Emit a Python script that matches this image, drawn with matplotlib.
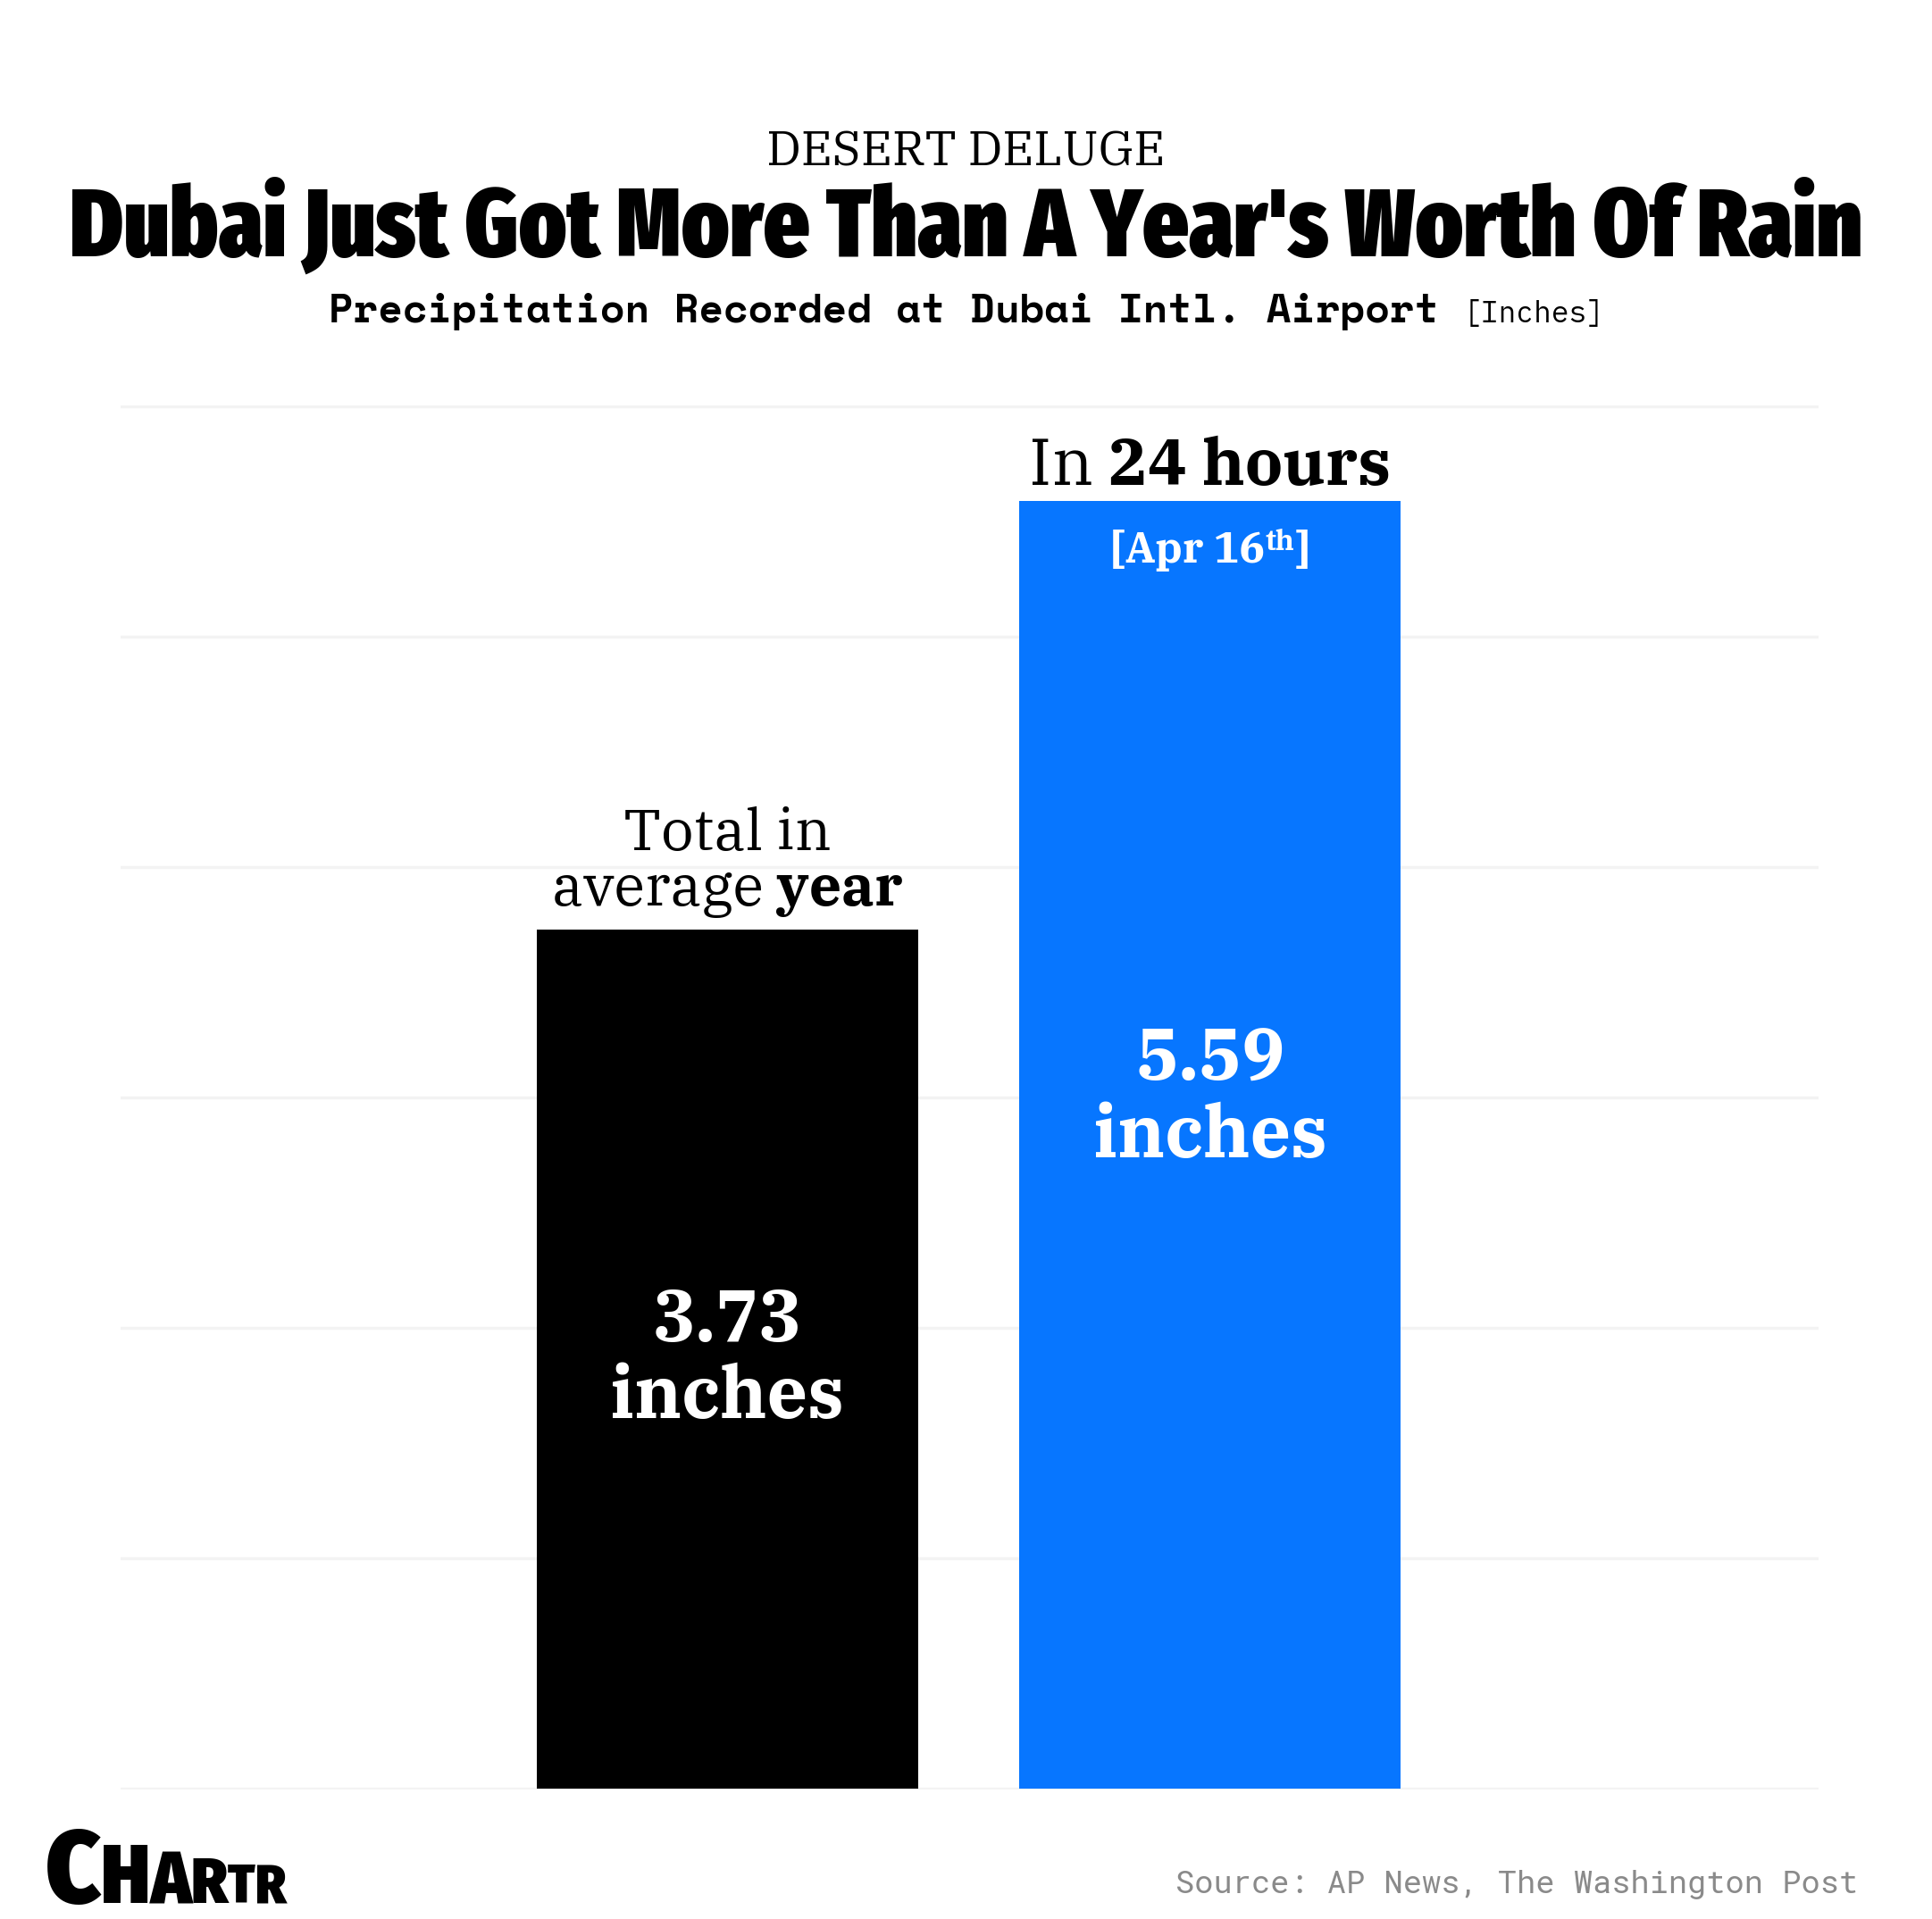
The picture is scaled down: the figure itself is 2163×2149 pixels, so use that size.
import matplotlib
matplotlib.use('Agg')
import matplotlib.pyplot as plt
from matplotlib import font_manager as fm
from matplotlib.transforms import IdentityTransform

names = {f.name for f in fm.fontManager.ttflist}


def pick(*cands):
    for c in cands:
        if c in names:
            return c
    return 'DejaVu Sans'


HEAVY = pick('Fira Sans Extra Condensed', 'Barlow Condensed', 'Anton', 'DejaVu Sans')
LOGO = pick('Fira Sans Condensed', 'Fira Sans Extra Condensed', 'DejaVu Sans')
SERIF = pick('IBM Plex Serif', 'PT Serif', 'DejaVu Serif')
MONO_B = pick('Space Mono', 'DejaVu Sans Mono')
MONO_L = pick('IBM Plex Mono', 'DejaVu Sans Mono')
MONO_S = pick('Roboto Mono', 'IBM Plex Mono', 'DejaVu Sans Mono')

# data
categories = ['Total in average year', 'In 24 hours']
values = [3.73, 5.59]
colors = ['#000000', '#0776FF']
unit = 'inches'

W, H = 2163, 2149
fig = plt.figure(figsize=(W / 100, H / 100), dpi=100)
fig.patch.set_facecolor('white')
ax = fig.add_axes([135 / W, 1 - 2004 / H, (2036 - 135) / W, (2004 - 454) / H])

x = range(len(values))
ax.bar(x, values, width=0.79, color=colors, zorder=2)
ax.set_xlim(-1.257, 2.26)
ax.set_ylim(-0.005, 6.005)
ax.set_yticks(range(7))
ax.grid(axis='y', color='#f3f3f3', lw=2.5, zorder=0)
ax.set_axisbelow(True)
ax.tick_params(left=False, bottom=False, labelleft=False, labelbottom=False)
for s in ax.spines.values():
    s.set_visible(False)

renderer = fig.canvas.get_renderer()
ident = IdentityTransform()


def rich(x0, y0, parts, ha='center', width=None, gap=0):
    # parts: (text, kwargs, dy) on one baseline, display px; width = target total width
    arts = []
    for s, kw, dy in parts:
        t = fig.text(0, 0, s, transform=ident, ha='left', va='baseline', **kw)
        arts.append([t, dy])

    def measure():
        return [a[0].get_window_extent(renderer).width for a in arts]

    ws = measure()
    if width:
        k = width / (sum(ws) + gap * (len(arts) - 1))
        for a in arts:
            a[0].set_fontsize(a[0].get_fontsize() * k)
            a[1] *= k
        gap *= k
        ws = measure()
    total = sum(ws) + gap * (len(arts) - 1)
    cur = x0 - total / 2 if ha == 'center' else (x0 - total if ha == 'right' else x0)
    for (t, dy), w in zip(arts, ws):
        t.set_position((cur, y0 + dy))
        cur += w + gap
    return arts


# header
rich(1081, H - 185, [('DESERT DELUGE', dict(family=SERIF, fontsize=40), 0)], width=446)
rich(1082, H - 287, [("Dubai Just Got More Than A Year's Worth Of Rain",
                      dict(family=HEAVY, weight=900, fontsize=72), 0)], width=2007)
rich(1082, H - 361, [
    ('Precipitation Recorded at Dubai Intl. Airport ', dict(family=MONO_B, weight='bold', fontsize=33), 0),
    ('[Inches]', dict(family=MONO_L, fontsize=24), 0),
], width=1432)

# labels on top of the bars
tops = [ax.transData.transform((i, v)) for i, v in zip(x, values)]
sfont = dict(family=SERIF, fontsize=49)
bfont = dict(family=SERIF, fontsize=49, weight='bold')
rich(tops[0][0], tops[0][1] + 89, [('Total in', sfont, 0)], width=233)
rich(tops[0][0], tops[0][1] + 27, [('average ', sfont, 0), ('year', bfont, 0)], width=393)

hfont = dict(family=SERIF, fontsize=55)
rich(tops[1][0], tops[1][1] + 18, [('In ', hfont, 0), ('24 hours', dict(hfont, weight='bold'), 0)],
     width=406)
wfont = dict(family=SERIF, weight='bold', color='white')
rich(tops[1][0], tops[1][1] - 69, [
    ('[Apr 16', dict(wfont, fontsize=36), 0),
    ('th', dict(wfont, fontsize=24), 15),
    (']', dict(wfont, fontsize=36), 0),
], width=223)

# values inside bars (the tall bar's label sits at the 3-inch line)
label_y = [values[0] / 2, 3.0]
for i, v, ly in zip(x, values, label_y):
    ax.text(i, ly, f'{v:.2f}\n{unit}', ha='center', va='center', color='white',
            family=SERIF, weight='bold', fontsize=58, linespacing=1.12, zorder=3)

# logo
logo = [('C', 1.0), ('H', 0.8), ('A', 0.71), ('R', 0.62), ('T', 0.52), ('R', 0.52)]
lparts = [(ch, dict(family=LOGO, weight=900, fontsize=78 * k), 0) for ch, k in logo]
rich(51, H - 2131, lparts, ha='left', width=269, gap=0)

# source
rich(2080, H - 2120, [('Source: AP News, The Washington Post',
                       dict(family=MONO_S, fontsize=25, color='#8a8a8a'), 0)], ha='right', width=766)

fig.savefig('out.png', dpi=100, facecolor='white')
